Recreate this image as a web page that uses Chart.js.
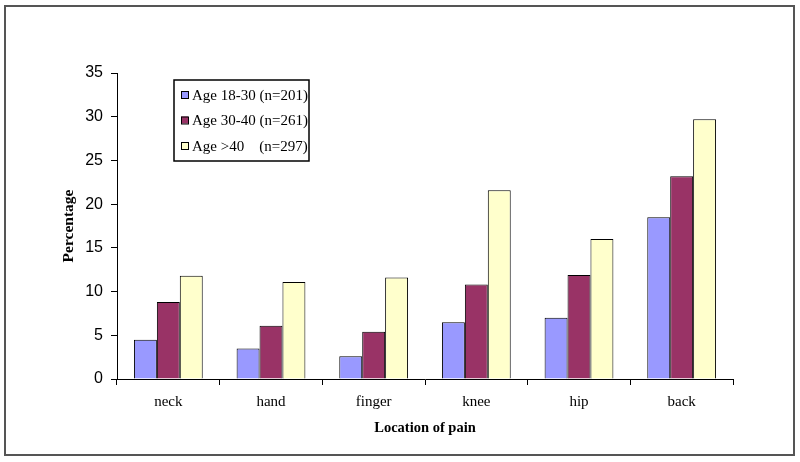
<!DOCTYPE html>
<html><head><meta charset="utf-8">
<script src="https://cdn.jsdelivr.net/npm/chart.js@4"></script>
<style>html,body{margin:0;padding:0;background:#fff}#wrap{width:800px;height:462px;position:relative}</style>
</head><body><div id="wrap"><canvas id="c" width="800" height="462"></canvas></div>
<script>
const categories = ['neck', 'hand', 'finger', 'knee', 'hip', 'back'];
const seriesNames = ['Age 18-30 (n=201)', 'Age 30-40 (n=261)', 'Age >40    (n=297)'];
const age18to30 = [4.5, 3.5, 2.6, 6.5, 7.0, 18.5];
const age30to40 = [8.8, 6.1, 5.4, 10.8, 11.9, 23.2];
const ageOver40 = [11.8, 11.1, 11.6, 21.6, 16.0, 29.7];
const yMin = 0, yMax = 35, yStep = 5;
const xTitle = 'Location of pain';
const yTitle = 'Percentage';

const colors = ['#9999FF', '#993366', '#FFFFCC'];
const seriesValues = [age18to30, age30to40, ageOver40];

const framePlugin = {
  id: 'frame',
  beforeDraw(chart) {
    const ctx = chart.ctx;
    ctx.save();
    ctx.fillStyle = '#fff';
    ctx.fillRect(0, 0, chart.width, chart.height);
    ctx.restore();
  },
  afterDraw(chart) {
    const ctx = chart.ctx;
    ctx.save();
    ctx.strokeStyle = '#555';
    ctx.lineWidth = 2;
    ctx.strokeRect(5, 6, 789, 449);
    ctx.restore();
  }
};

const legendPlugin = {
  id: 'boxLegend',
  afterDatasetsDraw(chart) {
    const ctx = chart.ctx;
    const x0 = 174, y0 = 80, w = 135, h = 81;
    ctx.save();
    ctx.fillStyle = '#fff';
    ctx.fillRect(x0, y0, w, h);
    ctx.strokeStyle = '#000';
    ctx.lineWidth = 1.5;
    ctx.strokeRect(x0, y0, w, h);
    ctx.font = '15px "Liberation Serif", "Times New Roman", serif';
    ctx.textBaseline = 'middle';
    ctx.fillStyle = '#000';
    chart.data.datasets.forEach((ds, i) => {
      const cy = y0 + 15 + i * 25.5;
      ctx.fillStyle = ds.backgroundColor;
      ctx.fillRect(181, cy - 4, 7, 7);
      ctx.strokeStyle = '#000';
      ctx.lineWidth = 1;
      ctx.strokeRect(181.5, cy - 3.5, 7, 7);
      ctx.fillStyle = '#000';
      ctx.fillText(ds.label, 192, cy + 1);
    });
    ctx.restore();
  }
};

new Chart(document.getElementById('c'), {
  type: 'bar',
  data: {
    labels: categories,
    datasets: seriesNames.map((name, i) => ({
      label: name,
      data: seriesValues[i],
      backgroundColor: colors[i],
      borderColor: '#000',
      borderWidth: 1,
      categoryPercentage: 0.67,
      barPercentage: 1.0
    }))
  },
  options: {
    responsive: false,
    animation: false,
    layout: { padding: { top: 73, right: 67, left: 0, bottom: 0 } },
    plugins: { legend: { display: false }, tooltip: { enabled: false } },
    scales: {
      x: {
        grid: { display: true, drawOnChartArea: false, drawTicks: true, tickLength: 6, color: '#000', offset: true },
        border: { display: true, color: '#000', width: 1 },
        ticks: { font: { family: '"Liberation Serif", "Times New Roman", serif', size: 15 }, color: '#000', padding: 8 },
        title: { display: true, text: xTitle, color: '#000', font: { family: '"Liberation Serif", "Times New Roman", serif', size: 14.5, weight: 'bold' }, padding: { top: 0, bottom: 25 } },
        afterFit: s => { s.height = 83; }
      },
      y: {
        min: yMin, max: yMax,
        grid: { display: true, drawOnChartArea: false, drawTicks: true, tickLength: 6, color: '#000' },
        border: { display: true, color: '#000', width: 1 },
        ticks: { stepSize: yStep, font: { family: '"Liberation Sans", Arial, sans-serif', size: 16 }, color: '#000', padding: 8 },
        title: { display: true, text: yTitle, color: '#000', font: { family: '"Liberation Serif", "Times New Roman", serif', size: 15.5, weight: 'bold' }, padding: { top: 60, bottom: 0 } },
        afterFit: s => { s.width = 117; }
      }
    }
  },
  plugins: [framePlugin, legendPlugin]
});
</script>
</body></html>
